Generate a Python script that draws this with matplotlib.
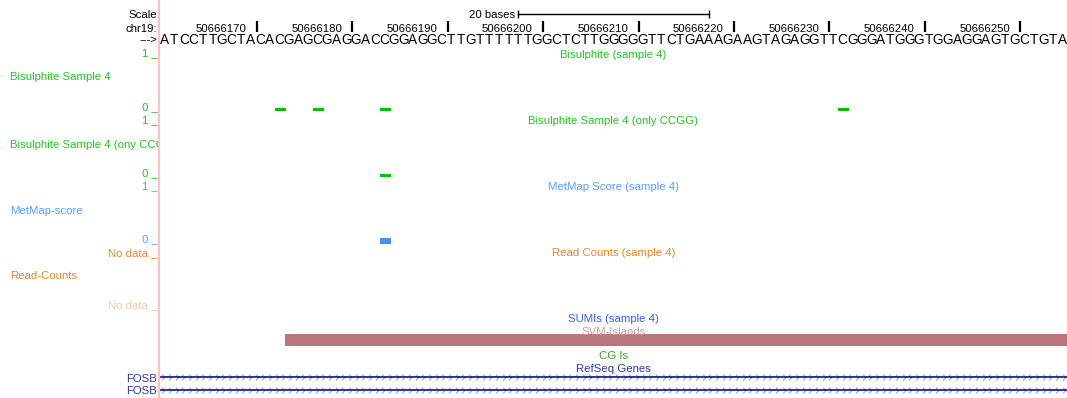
import numpy as np
import matplotlib
matplotlib.use("Agg")
import matplotlib.pyplot as plt
from matplotlib.path import Path

plt.rcParams['font.family'] = ['Liberation Sans', 'DejaVu Sans']

# ---------------- data ----------------
chrom = "chr19"
win_start = 50666160
win_end = 50666255
sequence = "ATCCTTGCTACACGAGCGAGGACCGGAGGCTTGTTTTTTGGCTCTTGGGGGTTCTGAAAGAAGTAGAGGTTCGGGATGGGTGGAGGAGTGCTGTA"
tick_positions = [50666170, 50666180, 50666190, 50666200, 50666210,
                  50666220, 50666230, 50666240, 50666250]
scale_bases = 20

bisulphite_pos = [50666172, 50666176, 50666183, 50666231]
bisulphite_val = [0.05, 0.05, 0.05, 0.05]
ccgg_pos = [50666183]
ccgg_val = [0.05]
metmap_pos = [50666183]
metmap_val = [0.11]

svm_start = [50666173.1]
svm_end = [50666255]
gene_names = ["FOSB", "FOSB"]
gene_start = [50666100, 50666100]
gene_end = [50666300, 50666300]

# ---------------- layout ----------------
W, H = 1067, 398
fig = plt.figure(figsize=(W / 100, H / 100), dpi=100)
fig.patch.set_facecolor("white")

left = fig.add_axes([0, 0, 158 / W, 1])
left.set_xlim(0, 158)
left.set_ylim(H, 0)
left.axis("off")

ax = fig.add_axes([160 / W, 0, (W - 160) / W, 1])
ax.set_xlim(win_start, win_end)
ax.set_ylim(H, 0)
ax.axis("off")

# red guide line
fig.add_artist(plt.Line2D([159 / W, 159 / W], [0, 1], color="#ffc0c0", lw=1.6))

GREEN_T = "#22c322"
GREEN_B = "#00c000"
BLUE_T = "#5a9cff"
BLUE_B = "#4a8ff0"
ORANGE = "#e4862a"
ORANGE_L = "#f6c9a0"
NAVY = "#2b3a9a"
FS = 8.2
TY = 1.5  # glyph-centre correction

def ltext(x, y, s, color="black", ha="right", **kw):
    left.text(x, y + TY, s, color=color, ha=ha, va="center", fontsize=FS, clip_on=True, **kw)

mid = (win_start + win_end) / 2

def ctext(y, s, color):
    ax.text(mid, y + TY, s, color=color, ha="center", va="center", fontsize=FS)

# ---------------- ruler ----------------
ltext(157, 14, "Scale")
ltext(157, 28, chrom + ":")
ltext(157, 38.5, "--->")

sb0, sb1 = mid - scale_bases / 2, mid + scale_bases / 2
ax.plot([sb0, sb1], [14, 14], color="black", lw=1)
ax.vlines([sb0, sb1], 10, 18, color="black", lw=1)
ax.text(sb0 - 0.3, 14 + TY, f"{scale_bases} bases", ha="right", va="center", fontsize=FS)

ax.vlines([t + 0.12 for t in tick_positions], 21, 32, color="black", lw=1.6)
for t in tick_positions:
    ax.text(t - 3.6, 27 + TY, str(t), ha="center", va="center", fontsize=FS)

for i, b in enumerate(sequence):
    ax.text(win_start + i + 0.5, 38.5 + TY, b, ha="center", va="center", fontsize=9.8)

# ---------------- wiggle tracks ----------------
tracks = [
    (bisulphite_pos, bisulphite_val, 111, 53, GREEN_B),
    (ccgg_pos, ccgg_val, 177, 53, GREEN_B),
    (metmap_pos, metmap_val, 244, 53, BLUE_B),
]
for pos, val, base, h, col in tracks:
    ax.bar(pos, [-v * h for v in val], width=1.2, bottom=base, align="edge",
           color=col, linewidth=0)

ltext(158, 52, "1 _", GREEN_T)
ltext(10, 76, "Bisulphite Sample 4", GREEN_T, ha="left")
ltext(158, 105.5, "0 _", GREEN_T)
ltext(158, 118.5, "1 _", GREEN_T)
ltext(10, 143, "Bisulphite Sample 4 (ony CCGG)", GREEN_T, ha="left")
ltext(158, 171.5, "0 _", GREEN_T)
ltext(158, 185, "1 _", BLUE_T)
ltext(10, 209, "MetMap-score", BLUE_T, ha="left")
ltext(158, 238, "0 _", BLUE_T)
ltext(158, 251.5, "No data _", ORANGE)
ltext(10, 274.5, "Read-Counts", ORANGE, ha="left")
ltext(158, 304, "No data _", ORANGE_L)

ctext(53, "Bisulphite (sample 4)", GREEN_T)
ctext(119, "Bisulphite Sample 4 (only CCGG)", GREEN_T)
ctext(185, "MetMap Score (sample 4)", BLUE_T)
ctext(252, "Read Counts (sample 4)", ORANGE)
ctext(318, "SUMIs (sample 4)", "#3a5cf0")
ctext(330.5, "SVM-Islands", "#cf9a9e")
ctext(354.5, "CG Is", "#2aa82a")
ctext(367, "RefSeq Genes", NAVY)

# SVM islands
for s, e in zip(svm_start, svm_end):
    ax.bar([s], [12], width=[e - s], bottom=334, align="edge", color="#b8777d", linewidth=0)

# genes
chev = Path([(-0.5, 1), (0.5, 0), (-0.5, -1)], [Path.MOVETO, Path.LINETO, Path.LINETO])
px_per_base = (W - 160) / (win_end - win_start)
gene_y = [377, 390]
for name, gs, ge, gy in zip(gene_names, gene_start, gene_end, gene_y):
    xs = np.arange(win_start + 0.35, win_end, 6.67 / px_per_base)
    ax.plot(xs, [gy] * len(xs), linestyle="none", marker=chev, markersize=4.2,
            markerfacecolor="none", markeredgecolor="#a8a8dc", markeredgewidth=0.9)
    ax.plot([max(gs, win_start), min(ge, win_end)], [gy, gy], color="#1c2690", lw=1.3)
    ltext(157, gy, name, NAVY)

fig.savefig("out.png", dpi=100, facecolor="white")
